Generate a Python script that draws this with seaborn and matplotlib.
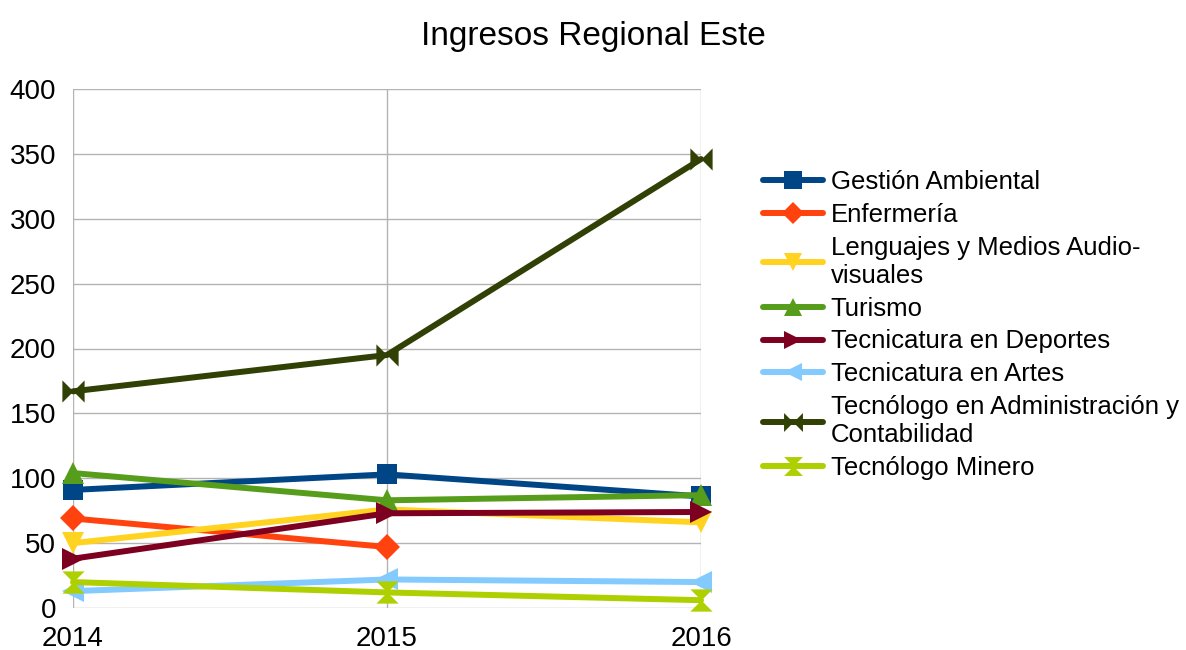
import matplotlib.pyplot as plt
from matplotlib.path import Path
import numpy as np
import pandas as pd
import seaborn as sns

years = [2014, 2015, 2016]
careers = ['Gestión Ambiental', 'Enfermería', 'Lenguajes y Medios Audio-\nvisuales',
           'Turismo', 'Tecnicatura en Deportes', 'Tecnicatura en Artes',
           'Tecnólogo en Administración y\nContabilidad', 'Tecnólogo Minero']

gestion = [91, 103, 86]
enfermeria = [69, 47, np.nan]
lenguajes = [50, 76, 66]
turismo = [104, 83, 87]
deportes = [38, 73, 74]
artes = [13, 22, 20]
administracion = [167, 195, 346]
minero = [20, 12, 6]

colors = ['#004586', '#ff420e', '#ffd320', '#579d1c',
          '#7e0021', '#83caff', '#314004', '#aecf00']

# bowtie markers (horizontal and vertical)
bow_h = Path([(-1, -1), (1, 1), (1, -1), (-1, 1), (-1, -1)],
             [Path.MOVETO, Path.LINETO, Path.LINETO, Path.LINETO, Path.CLOSEPOLY])
bow_v = Path([(-1, -1), (1, -1), (-1, 1), (1, 1), (-1, -1)],
             [Path.MOVETO, Path.LINETO, Path.LINETO, Path.LINETO, Path.CLOSEPOLY])
markers = ['s', 'D', 'v', '^', '>', '<', bow_h, bow_v]
sizes = [15, 13, 16, 16, 16, 16, 16, 16]

series = [gestion, enfermeria, lenguajes, turismo, deportes, artes, administracion, minero]
df = pd.concat([pd.DataFrame({'year': years, 'value': vals, 'career': name})
                for name, vals in zip(careers, series)], ignore_index=True)

sns.set_style('white')
plt.rcParams['font.family'] = ['Liberation Sans', 'DejaVu Sans']
plt.rcParams['text.color'] = 'black'
plt.rcParams['xtick.labelcolor'] = 'black'
plt.rcParams['ytick.labelcolor'] = 'black'

fig = plt.figure(figsize=(11.86, 6.5), dpi=100)
ax = fig.add_axes([73 / 1186, 1 - 608 / 650, (701 - 73) / 1186, (608 - 89) / 650])

for i, name in enumerate(careers):
    sub = df[df.career == name].dropna()
    sns.lineplot(ax=ax, data=sub, x='year', y='value', color=colors[i],
                 linewidth=4.3, marker=markers[i], label=name, zorder=3 + i,
                 clip_on=False)
    line = ax.lines[-1]
    line.set_markersize(sizes[i])
    line.set_markeredgewidth(0)

ax.set_xlim(2014, 2016)
ax.set_ylim(0, 400)
ax.set_xticks(years)
ax.set_yticks(range(0, 401, 50))
ax.set_xlabel('')
ax.set_ylabel('')
ax.grid(True, color='#b3b3b3', linewidth=1)
for s in ax.spines.values():
    s.set_visible(False)
ax.tick_params(axis='both', labelsize=20, length=7.2, color='#b3b3b3', width=1,
               direction='out')
ax.tick_params(axis='y', pad=5)
ax.tick_params(axis='x', pad=5.5)

fig.suptitle('Ingresos Regional Este', fontsize=24, y=0.967)

handles, labels = ax.get_legend_handles_labels()
ax.legend(handles, labels, loc='center left', bbox_to_anchor=(763 / 1186, 0.5),
          bbox_transform=fig.transFigure, frameon=False, fontsize=18.5,
          handlelength=2.33, handletextpad=0.31, labelspacing=0.35,
          borderaxespad=0, borderpad=0, markerscale=0.85)

plt.savefig('out.png', dpi=100)
